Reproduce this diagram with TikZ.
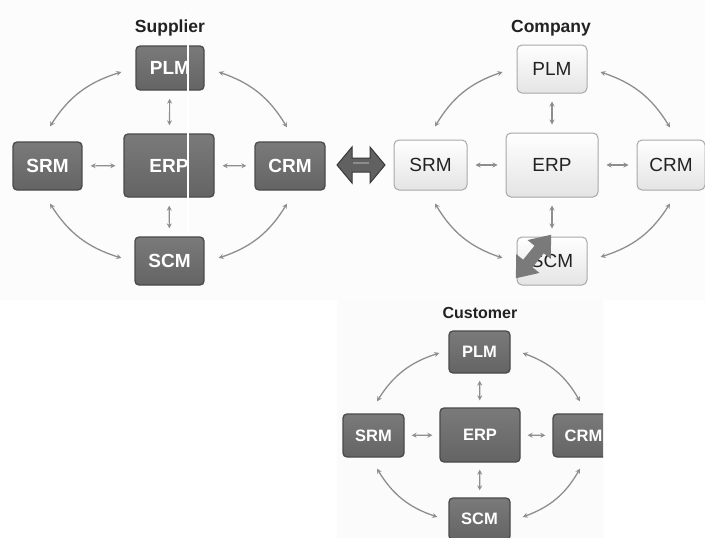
\documentclass[tikz,border=0pt]{standalone}
\usepackage{fontspec}
\setmainfont{Liberation Sans}
\usetikzlibrary{arrows.meta,calc}
\definecolor{arrowgray}{HTML}{8E8E8E}
\definecolor{darkfillA}{HTML}{7A7A7A}
\definecolor{darkfillB}{HTML}{646464}
\definecolor{darkline}{HTML}{4A4A4A}
\definecolor{lightline}{HTML}{A8A8A8}
\definecolor{lightbottom}{HTML}{E4E4E4}
\definecolor{titlecol}{HTML}{222222}
\begin{document}
\begin{tikzpicture}[x=1pt,y=1pt,
  dbox/.style={rounded corners=4pt, draw=darkline, line width=1.3pt,
    top color=darkfillA, bottom color=darkfillB, text=white, inner sep=0pt,
    font=\bfseries\fontsize{19}{19}\selectfont},
  dboxs/.style={dbox, font=\bfseries\fontsize{16.5}{16.5}\selectfont},
  lbox/.style={rounded corners=5pt, draw=lightline, line width=1pt,
    top color=white, bottom color=lightbottom, text=titlecol, inner sep=0pt,
    font=\fontsize{19}{19}\selectfont},
  tip/.tip={Stealth[length=5pt,width=5pt]},
  link/.style={draw=arrowgray, line width=1.1pt, tip-tip, shorten <=8pt, shorten >=8pt},
  linku/.style={link, shorten <=7pt, shorten >=7pt},
  curv/.style={draw=arrowgray, line width=1.3pt, tip-tip},
  title/.style={font=\bfseries\fontsize{17.5}{17.5}\selectfont, text=titlecol, anchor=base}
]
\useasboundingbox (0,0) rectangle (705,-538);
\clip (0,0) rectangle (705,-538);
% very light panels
\fill[black!1] (0,0) rectangle (705,-300);
\fill[black!1.5] (337,-300) rectangle (603,-538);

% ---------------- Supplier ----------------
\node[title] (tS) at (170,-32) {Supplier};
\node[dbox, minimum width=68pt, minimum height=44pt] (sPLM) at (170,-68) {PLM};
\node[dbox, minimum width=90pt, minimum height=63pt] (sERP) at (169,-165.5) {ERP};
\node[dbox, minimum width=69pt, minimum height=48pt] (sSRM) at (47.5,-166) {SRM};
\node[dbox, minimum width=70pt, minimum height=48pt] (sCRM) at (290,-166) {CRM};
\node[dbox, minimum width=69pt, minimum height=48pt] (sSCM) at (169.5,-261) {SCM};
\draw[link] (sSRM) -- (sERP);
\draw[link] (sERP) -- (sCRM);
\draw[link] (sPLM) -- (sERP);
\draw[link] (sERP) -- (sSCM);
\draw[curv] ([shift={(-14,-4)}]sPLM.west) to[bend right=20] ([shift={(2.5,15)}]sSRM.north);
\draw[curv] ([shift={(14,-4)}]sPLM.east) to[bend left=20] ([shift={(-3,14)}]sCRM.north);
\draw[curv] ([shift={(2.5,-13)}]sSRM.south) to[bend right=20] ([shift={(-13,3)}]sSCM.west);
\draw[curv] ([shift={(-3,-13)}]sCRM.south) to[bend left=20] ([shift={(14,3)}]sSCM.east);
\draw[white, line width=2pt] (188,-14) -- (188,-232);

% ---------------- big double arrow ----------------
\draw[fill=black!62, draw=black!78, line width=1pt, line join=miter]
  (337,-165) -- (352,-147) -- (352,-158) -- (370,-158) -- (370,-147) -- (385,-165)
  -- (370,-183) -- (370,-172) -- (352,-172) -- (352,-183) -- cycle;
\draw[black!45, line width=1.2pt] (353,-163) -- (369,-163);

% ---------------- Company ----------------
\node[title] (tC) at (551,-32) {Company};
\node[lbox, minimum width=70pt, minimum height=48pt] (cPLM) at (552,-69) {PLM};
\node[lbox, minimum width=92pt, minimum height=64pt] (cERP) at (552,-165) {ERP};
\node[lbox, minimum width=73pt, minimum height=50pt] (cSRM) at (430.5,-165) {SRM};
\node[lbox, minimum width=68pt, minimum height=50pt] (cCRM) at (671,-165) {CRM};
\node[lbox, minimum width=70pt, minimum height=48pt] (cSCM) at (552,-261) {SCM};
\draw[link] (cSRM) -- (cERP);
\draw[link] (cERP) -- (cCRM);
\draw[link] (cPLM) -- (cERP);
\draw[link] (cERP) -- (cSCM);
\draw[curv] ([shift={(-14,-3)}]cPLM.west) to[bend right=20] ([shift={(4.5,13)}]cSRM.north);
\draw[curv] ([shift={(13,-3)}]cPLM.east) to[bend left=20] ([shift={(-1,12)}]cCRM.north);
\draw[curv] ([shift={(4.5,-13)}]cSRM.south) to[bend right=20] ([shift={(-14,3)}]cSCM.west);
\draw[curv] ([shift={(-1,-13)}]cCRM.south) to[bend left=20] ([shift={(13,4)}]cSCM.east);
% gray diagonal double arrow over SCM
\fill[black!52, shift={(533.5,-256.5)}, rotate=51]
  (28,0) -- (9,15) -- (9,6) -- (-9,6) -- (-9,15) -- (-28,0)
  -- (-9,-15) -- (-9,-6) -- (9,-6) -- (9,-15) -- cycle;

% ---------------- Customer ----------------
\begin{scope}
\clip (0,0) rectangle (603,-538);
\node[title, font=\bfseries\fontsize{16}{16}\selectfont] (tU) at (480,-318) {Customer};
\node[dboxs, minimum width=61pt, minimum height=42pt] (uPLM) at (479.5,-352) {PLM};
\node[dboxs, minimum width=80pt, minimum height=54pt] (uERP) at (480,-435) {ERP};
\node[dboxs, minimum width=61pt, minimum height=43pt] (uSRM) at (373.5,-435.5) {SRM};
\node[dboxs, minimum width=61pt, minimum height=43pt] (uCRM) at (583.5,-435.5) {CRM};
\node[dboxs, minimum width=61pt, minimum height=42pt] (uSCM) at (479.5,-519) {SCM};
\draw[linku] (uSRM) -- (uERP);
\draw[linku] (uERP) -- (uCRM);
\draw[linku] (uPLM) -- (uERP);
\draw[linku] (uERP) -- (uSCM);
\draw[curv] ([shift={(-9,-1)}]uPLM.west) to[bend right=20] ([shift={(3.5,12)}]uSRM.north);
\draw[curv] ([shift={(12,-1)}]uPLM.east) to[bend left=20] ([shift={(-3.5,12)}]uCRM.north);
\draw[curv] ([shift={(3.5,-11)}]uSRM.south) to[bend right=20] ([shift={(-11,2)}]uSCM.west);
\draw[curv] ([shift={(-3.5,-11)}]uCRM.south) to[bend left=20] ([shift={(12,2)}]uSCM.east);
\end{scope}
\end{tikzpicture}
\end{document}
